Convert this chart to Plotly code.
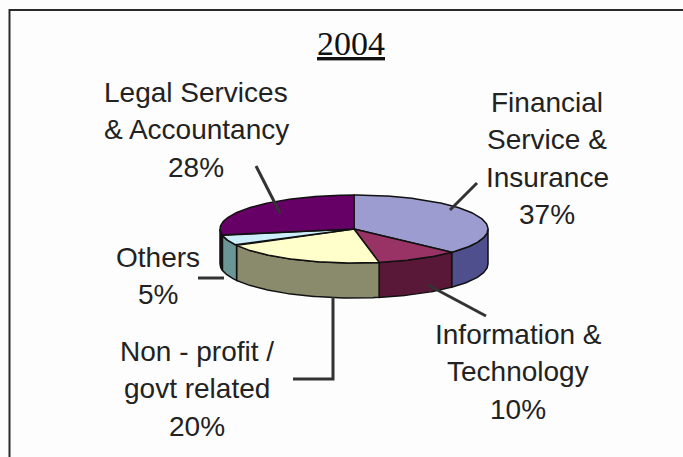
import numpy as np
import plotly.graph_objects as go

# ---- data -------------------------------------------------------------
title_text = "2004"
sectors = [
    ["Financial", "Service &", "Insurance"],
    ["Information &", "Technology"],
    ["Non - profit /", "govt related"],
    ["Others"],
    ["Legal Services", "& Accountancy"],
]
shares = [37, 10, 20, 5, 28]

# ---- styling ----------------------------------------------------------
top_colors = ["#9C9CD0", "#993366", "#FFFFCC", "#CCEEFA", "#660066"]
side_colors = ["#4F4F8E", "#5A1838", "#8A8A6C", "#6A9696", "#330033"]

W, H = 683, 457
CX, CY = 354, 229        # centre of the pie's top face
RX, RY = 134, 34         # ellipse radii of the top face
DEPTH = 35               # thickness of the pie
START = 90.0             # first slice starts at 12 o'clock, clockwise
LINE_GAP = 37.5          # distance between label text lines

# label block: centre x and baseline-centre y of the first line
label_pos = [(547, 102), (518, 334), (197, 351), (158, 257), (196, 92)]
leaders = [
    [(477, 183), (450, 210)],
    [(428, 285), (486, 316)],
    [(333, 297), (333, 379), (293, 379)],
    [(198, 278), (224, 278)],
    [(256, 166), (280, 213)],
]


def ell(t_deg, dy=0.0):
    t = np.radians(t_deg)
    return CX + RX * np.cos(t), CY - RY * np.sin(t) + dy


fig = go.Figure()

# slice angle ranges (degrees, decreasing = clockwise)
total = float(sum(shares))
bounds = []
a = START
for v in shares:
    b = a - 360.0 * v / total
    bounds.append((a, b))
    a = b

# side walls: only the front half (angles between -180 and 0) is visible
for (a0, a1), col in zip(bounds, side_colors):
    lo, hi = max(a1, -180.0), min(a0, 0.0)
    if hi <= lo:
        continue
    ts = np.linspace(hi, lo, 80)
    xt, yt = ell(ts)
    xb, yb = ell(ts[::-1], DEPTH)
    xs = np.concatenate([xt, xb, xt[:1]])
    ys = np.concatenate([yt, yb, yt[:1]])
    fig.add_trace(go.Scatter(x=xs, y=ys, mode="lines", fill="toself",
                             fillcolor=col, line=dict(color="#111", width=1.5),
                             hoverinfo="skip", showlegend=False))

# top faces
for (a0, a1), col, name, v in zip(bounds, top_colors, sectors, shares):
    ts = np.linspace(a0, a1, 120)
    xe, ye = ell(ts)
    xs = np.concatenate([[CX], xe, [CX]])
    ys = np.concatenate([[CY], ye, [CY]])
    fig.add_trace(go.Scatter(x=xs, y=ys, mode="lines", fill="toself",
                             fillcolor=col, line=dict(color="#111", width=1.5),
                             name=" ".join(name), text=f"{v}%",
                             hoverinfo="name+text", showlegend=False))

# leader lines
for path in leaders:
    px, py = zip(*path)
    fig.add_trace(go.Scatter(x=px, y=py, mode="lines",
                             line=dict(color="#333333", width=3),
                             hoverinfo="skip", showlegend=False))

annotations = []
label_font = dict(family="Liberation Sans, Arial, sans-serif", size=28, color="#222222")
for lines, v, (lx, ly) in zip(sectors, shares, label_pos):
    for i, line in enumerate(lines + [f"{v}%"]):
        annotations.append(dict(
            x=lx, y=ly + i * LINE_GAP, xref="x", yref="y", showarrow=False,
            text=line, xanchor="center", yanchor="middle", font=label_font,
        ))
annotations.append(dict(
    x=351, y=43, xref="x", yref="y", showarrow=False,
    text=f"<u>{title_text}</u>", xanchor="center", yanchor="middle",
    font=dict(family="Liberation Serif, Times New Roman, serif", size=34, color="#111111"),
))

# chart-area frame (top and left edges)
shapes = [
    dict(type="line", xref="x", yref="y", x0=9, y0=10, x1=W, y1=10,
         line=dict(color="#2a2a2a", width=2)),
    dict(type="line", xref="x", yref="y", x0=9.5, y0=9, x1=9.5, y1=H,
         line=dict(color="#2a2a2a", width=2)),
]

fig.update_layout(
    width=W, height=H,
    margin=dict(l=0, r=0, t=0, b=0),
    paper_bgcolor="#FDFDFD", plot_bgcolor="#FDFDFD",
    xaxis=dict(range=[0, W], visible=False, fixedrange=True),
    yaxis=dict(range=[H, 0], visible=False, fixedrange=True),
    annotations=annotations, shapes=shapes,
)

fig.write_html("out.html")
